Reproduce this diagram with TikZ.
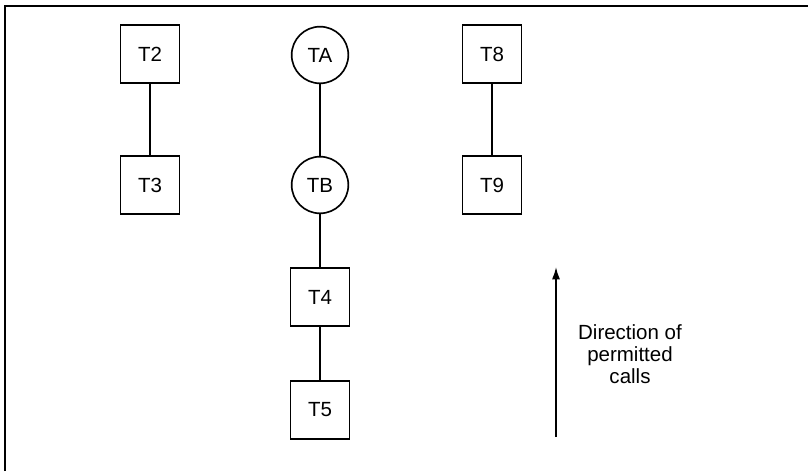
\documentclass[tikz,border=0pt]{standalone}
\usepackage{fontspec}
\setmainfont{Liberation Sans}
\usepackage{tikz}
\usetikzlibrary{shapes}
\usetikzlibrary{arrows.meta}

\begin{document}
\begin{tikzpicture}[x=0.03cm, y=-0.03cm,
		line width=1.3pt,
		font=\fontsize{17.5}{18.6}\selectfont,
		task/.style={rectangle, draw, line width=1.5pt, minimum width=1.77cm, minimum height=1.72cm, inner sep=0pt},
		server/.style={circle, draw, line width=1.4pt, minimum size=1.7cm, inner sep=0pt}]
				\useasboundingbox (0,0) rectangle (808,471);
				\draw (5,471) -- (5,6) -- (808,6);
				\node[task] (t2) at (150,54) {T2};
				\node[task] (t3) at (150,185) {T3};
				\node[server] (ta) at (320,55) {TA};
				\node[server] (tb) at (320,185) {TB};
				\node[task] (t4) at (320,297) {T4};
				\node[task] (t5) at (320,410) {T5};
				\node[task] (t8) at (492,54) {T8};
				\node[task] (t9) at (492,185) {T9};
				\coordinate (low) at (556,437);
				\coordinate (high) at (556,267);
				\node[align=center] (dir) at (630,354) {Direction of\\permitted\\calls};
				\draw (t2) -- (t3);\draw (ta) -- (tb);\draw (tb) -- (t4);\draw (t4) -- (t5);\draw (t8) -- (t9);
				\draw[-{Latex[length=0.37cm, width=0.24cm]}] (low) -- (high);
			\end{tikzpicture}
\end{document}
